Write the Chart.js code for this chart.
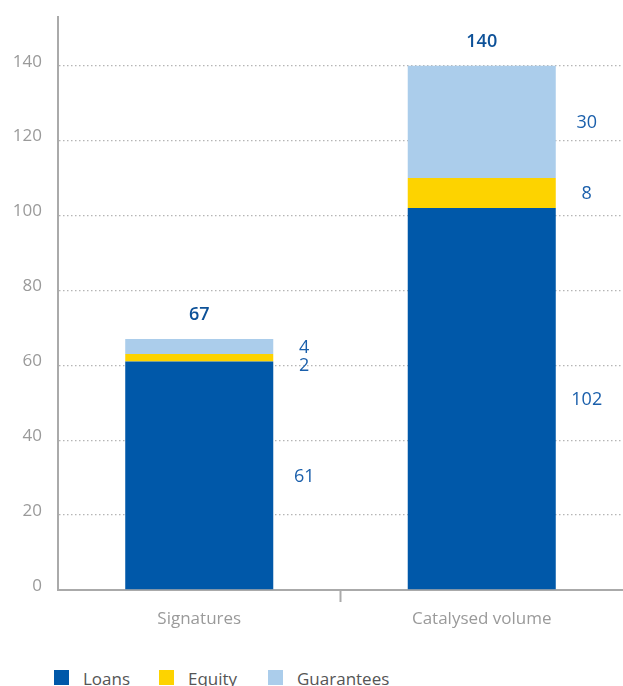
<!DOCTYPE html>
<html><head><meta charset="utf-8">
<script src="https://cdn.jsdelivr.net/npm/chart.js@4.4.0/dist/chart.umd.min.js"></script>
<style>
html,body{margin:0;padding:0;background:#fff;}
#wrap{position:relative;width:623px;height:686px;overflow:hidden;}
#c{position:absolute;left:0;top:0;}
#legend{position:absolute;left:54px;top:669px;display:flex;font-family:'Open Sans',sans-serif;font-size:17px;color:#555;line-height:16px;}
.item{display:flex;align-items:center;}
.sw{width:15px;height:15px;margin-right:14px;flex:none;}
.item span{position:relative;top:2px;}
</style>
</head><body>
<div id="wrap">
<canvas id="c" width="623" height="650"></canvas>
<div id="legend"></div>
</div>
<script>
const categories = ['Signatures', 'Catalysed volume'];
const seriesNames = ['Loans', 'Equity', 'Guarantees'];
const loans = [61, 102];
const equity = [2, 8];
const guarantees = [4, 30];
const yTicks = [0, 20, 40, 60, 80, 100, 120, 140];
const colors = ['#0058a9', '#fdd300', '#abcdeb'];

const FONT = "'Open Sans', sans-serif";
const LABEL_BLUE = '#1a5fab';
const legendItemWidths = [105, 109, 160];

const valueLabels = {
  id: 'valueLabels',
  afterDatasetsDraw(chart) {
    const ctx = chart.ctx;
    const n = chart.data.labels.length;
    ctx.save();
    ctx.textAlign = 'center';
    ctx.textBaseline = 'middle';
    for (let i = 0; i < n; i++) {
      let prevY = -Infinity, topEl = null, total = 0;
      for (let d = chart.data.datasets.length - 1; d >= 0; d--) {
        const el = chart.getDatasetMeta(d).data[i];
        const v = chart.data.datasets[d].data[i];
        total += v;
        if (!topEl) topEl = el;
        let y = (el.y + el.base) / 2;
        if (y < prevY + 18) y = prevY + 18;
        prevY = y;
        ctx.font = '400 18px ' + FONT;
        ctx.fillStyle = LABEL_BLUE;
        ctx.fillText(String(v), el.x + el.width / 2 + 31, y + 1);
      }
      ctx.font = '600 18px ' + FONT;
      ctx.fillStyle = '#0d5198';
      ctx.fillText(String(total), topEl.x, topEl.y - 24);
    }
    ctx.restore();
  }
};

const seriesData = [loans, equity, guarantees];
new Chart(document.getElementById('c'), {
  type: 'bar',
  data: {
    labels: categories,
    datasets: seriesNames.map((name, k) => ({
      label: name,
      data: seriesData[k],
      backgroundColor: colors[k],
      borderWidth: 0,
      barPercentage: 0.524,
      categoryPercentage: 1
    }))
  },
  options: {
    responsive: false,
    animation: false,
    layout: { padding: { top: 17, left: 0, right: 0, bottom: 0 } },
    plugins: { legend: { display: false }, tooltip: { enabled: false } },
    scales: {
      x: {
        stacked: true,
        afterFit(s) { s.height = 60; s.paddingLeft = 0; s.paddingRight = 0; },
        grid: {
          offset: true,
          drawOnChartArea: false,
          drawTicks: true,
          tickLength: 12,
          tickWidth: 2,
          tickColor: (c) => c.index === 1 ? '#aaaaaa' : 'rgba(0,0,0,0)'
        },
        border: { display: true, color: '#aaaaaa', width: 2 },
        ticks: { color: '#9a9a9a', font: { family: FONT, size: 17 }, padding: 7 }
      },
      y: {
        stacked: true,
        min: 0,
        max: 153,
        afterFit(s) { s.width = 58; s.paddingTop = 0; s.paddingBottom = 0; },
        afterBuildTicks(s) { s.ticks = yTicks.map(v => ({ value: v })).concat([{ value: 153 }]); },
        grid: {
          drawTicks: false,
          color: (c) => (c.tick && c.tick.value > 0 && yTicks.includes(c.tick.value)) ? '#b5b5b5' : 'rgba(0,0,0,0)',
          lineWidth: 1.3
        },
        border: { display: true, color: '#aaaaaa', width: 2, dash: [1.5, 2.5] },
        ticks: {
          color: '#9a9a9a',
          font: { family: FONT, size: 17 },
          padding: 16,
          labelOffset: -4,
          callback: (v) => yTicks.includes(v) ? String(v) : ''
        }
      }
    }
  },
  plugins: [valueLabels]
});

const leg = document.getElementById('legend');
seriesNames.forEach((name, k) => {
  const it = document.createElement('div');
  it.className = 'item';
  it.style.width = legendItemWidths[k] + 'px';
  const sw = document.createElement('div');
  sw.className = 'sw';
  sw.style.background = colors[k];
  const tx = document.createElement('span');
  tx.textContent = name;
  it.appendChild(sw); it.appendChild(tx);
  leg.appendChild(it);
});
</script>
</body></html>
